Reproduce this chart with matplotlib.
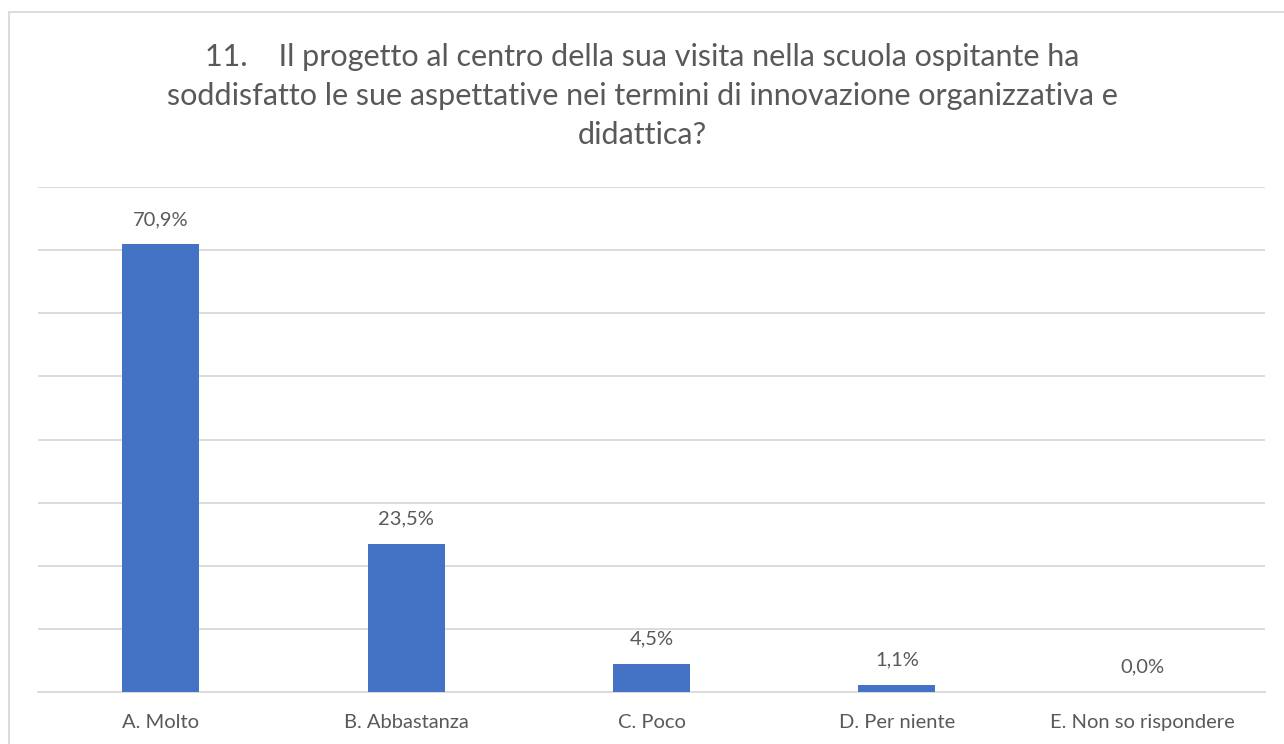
import matplotlib.pyplot as plt
from matplotlib.lines import Line2D

categories = ["A. Molto", "B. Abbastanza", "C. Poco", "D. Per niente", "E. Non so rispondere"]
values = [70.9, 23.5, 4.5, 1.1, 0.0]
title = ("11.    Il progetto al centro della sua visita nella scuola ospitante ha\n"
         "soddisfatto le sue aspettative nei termini di innovazione organizzativa e\n"
         "didattica?")

W, H = 1284, 744
bar_color = "#4472C4"
text_color = "#595959"
grid_color = "#D9D9D9"

plt.rcParams['font.family'] = ['Lato', 'DejaVu Sans']

fig = plt.figure(figsize=(W / 100, H / 100), dpi=100)
ax = fig.add_axes([38 / W, (H - 692) / H, (1265 - 38) / W, (692 - 187) / H])

x = range(len(categories))
ax.bar(x, values, width=0.314, color=bar_color, zorder=3)
for xi, v in zip(x, values):
    ax.annotate(f"{v:.1f}%".replace(".", ","), (xi, v), xytext=(0, 25),
                textcoords="offset pixels", ha="center", va="center",
                fontsize=14.5, color=text_color)

ax.set_xlim(-0.5, len(categories) - 0.5)
ax.set_ylim(0, 80)
ax.set_yticks(range(0, 81, 10))
ax.yaxis.grid(True, color=grid_color, linewidth=1.3, zorder=0)
ax.tick_params(axis="y", left=False, labelleft=False)
ax.tick_params(axis="x", length=0, pad=16, labelsize=14.5, labelcolor=text_color)
ax.set_xticks(list(x))
ax.set_xticklabels(categories)
for s in ["top", "right", "left"]:
    ax.spines[s].set_visible(False)
ax.spines["bottom"].set_color(grid_color)
ax.spines["bottom"].set_linewidth(1.3)

fig.text(0.5, 1 - 43 / H, title, ha="center", va="top", fontsize=22,
         color=text_color, linespacing=1.47)

# chart frame (top and left edges visible)
fig.add_artist(Line2D([9 / W, 1], [1 - 12 / H, 1 - 12 / H], color=grid_color, lw=1.3))
fig.add_artist(Line2D([9 / W, 9 / W], [0, 1 - 12 / H], color=grid_color, lw=1.3))

fig.savefig("out.png", dpi=100, facecolor="white")
